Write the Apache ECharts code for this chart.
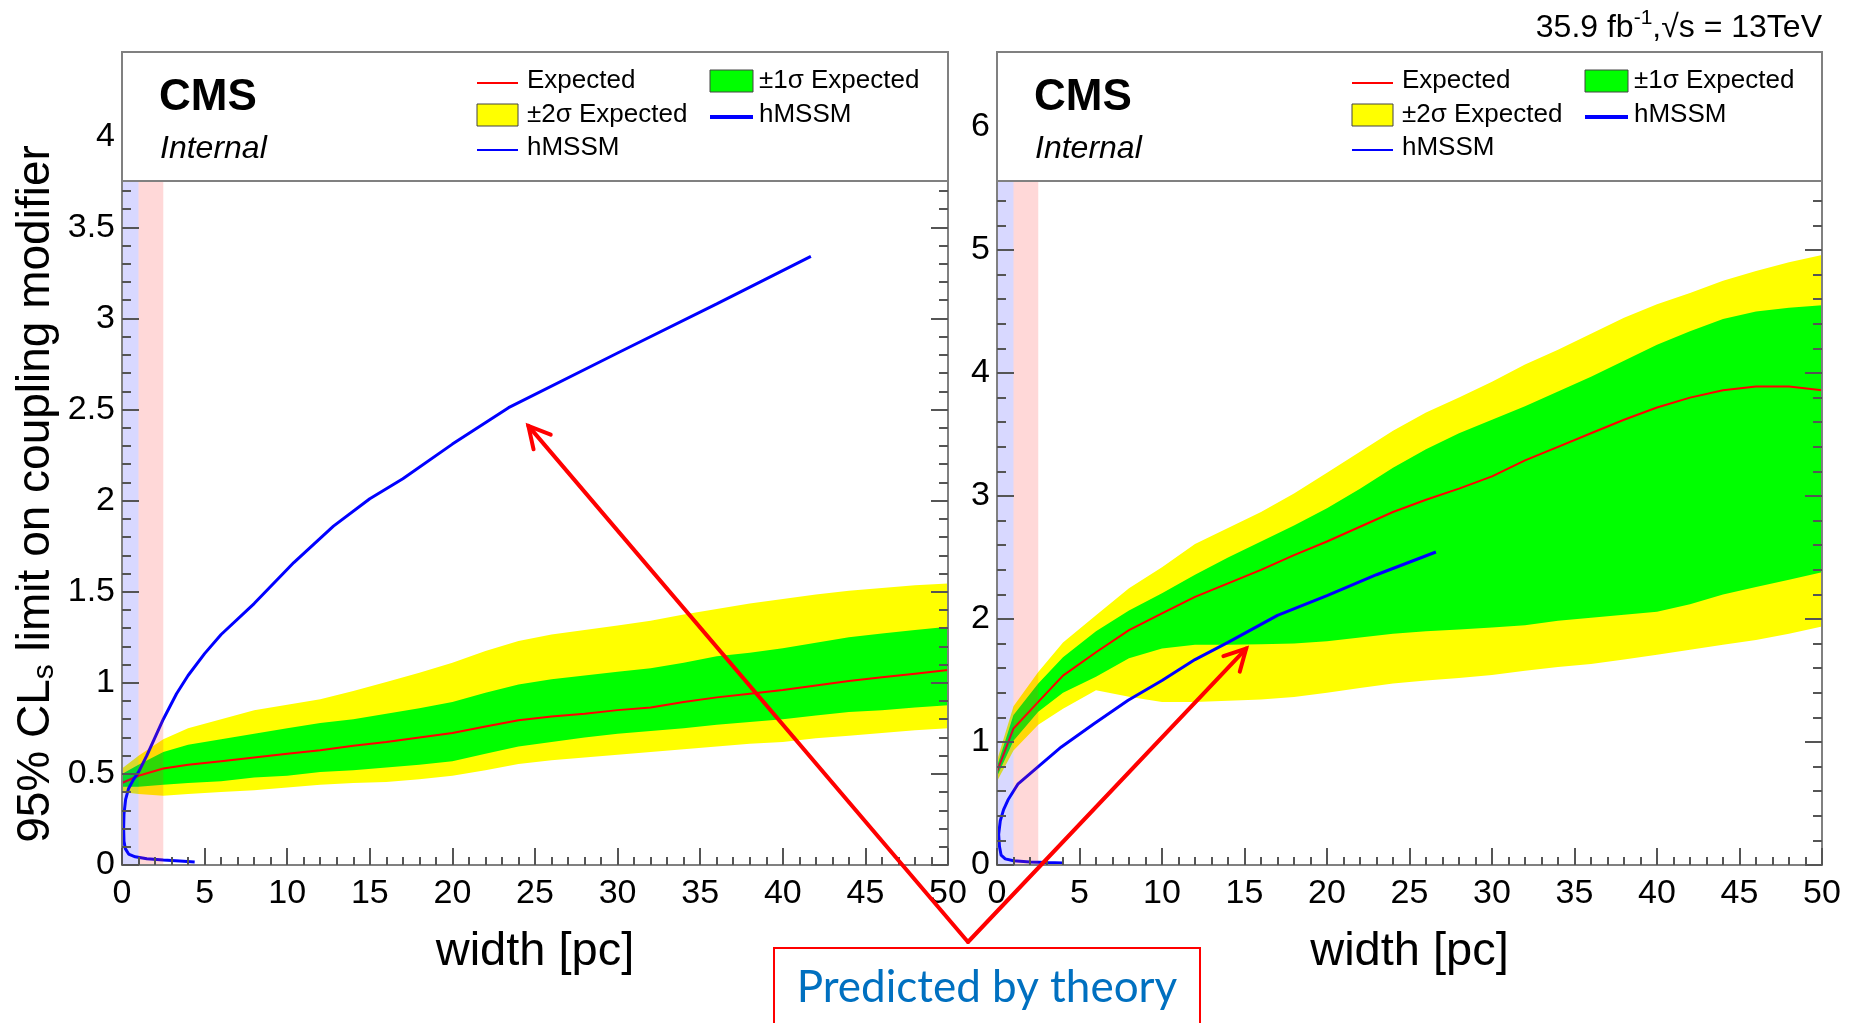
<!DOCTYPE html>
<html>
<head>
<meta charset="utf-8">
<script src="https://cdn.jsdelivr.net/npm/echarts@6/dist/echarts.min.js"></script>
<style>
  html, body { margin: 0; padding: 0; background: #ffffff; }
  #chart { width: 1855px; height: 1023px; }
</style>
</head>
<body>
<div id="chart"></div>
<script>
// ---------------- left panel: expected limit and bands vs width ----------------
const leftWidth  = [0, 1, 2.5, 4, 6, 8, 10, 12, 14, 16, 18, 20, 22, 24, 26, 28, 30, 32, 34, 36, 38, 40, 42, 44, 46, 48, 50];
const leftMinus2 = [0.40, 0.39, 0.38, 0.39, 0.40, 0.41, 0.425, 0.44, 0.45, 0.455, 0.47, 0.49, 0.52, 0.555, 0.575, 0.59, 0.605, 0.62, 0.635, 0.65, 0.665, 0.675, 0.695, 0.71, 0.725, 0.74, 0.75];
const leftMinus1 = [0.43, 0.43, 0.44, 0.45, 0.46, 0.48, 0.49, 0.51, 0.52, 0.535, 0.55, 0.57, 0.61, 0.65, 0.675, 0.70, 0.72, 0.735, 0.75, 0.77, 0.785, 0.80, 0.82, 0.84, 0.85, 0.865, 0.877];
const leftExpected = [0.45, 0.49, 0.53, 0.55, 0.57, 0.59, 0.61, 0.63, 0.655, 0.675, 0.70, 0.725, 0.76, 0.795, 0.815, 0.83, 0.85, 0.865, 0.895, 0.92, 0.94, 0.96, 0.985, 1.01, 1.03, 1.05, 1.07];
const leftPlus1  = [0.50, 0.55, 0.62, 0.66, 0.69, 0.72, 0.75, 0.78, 0.80, 0.83, 0.86, 0.895, 0.945, 0.99, 1.02, 1.04, 1.06, 1.08, 1.11, 1.145, 1.165, 1.19, 1.22, 1.25, 1.27, 1.29, 1.307];
const leftPlus2  = [0.53, 0.60, 0.69, 0.75, 0.80, 0.85, 0.88, 0.91, 0.955, 1.005, 1.055, 1.11, 1.175, 1.23, 1.265, 1.29, 1.315, 1.34, 1.375, 1.405, 1.435, 1.46, 1.485, 1.505, 1.52, 1.535, 1.545];
// hMSSM prediction, listed along the curve (width, coupling modifier)
const leftHmssm = [[4.4, 0.017], [3.5, 0.022], [2.5, 0.027], [1.5, 0.034], [0.8, 0.045], [0.4, 0.06], [0.2, 0.09], [0.12, 0.13], [0.1, 0.2], [0.12, 0.28], [0.22, 0.36], [0.4, 0.42], [0.7, 0.47], [1.0, 0.51], [1.5, 0.6], [2.0, 0.7], [2.5, 0.8], [3.3, 0.94], [4.0, 1.04], [5.0, 1.16], [6.0, 1.265], [8.0, 1.435], [10.4, 1.66], [12.8, 1.86], [15.0, 2.01], [17.0, 2.12], [20.0, 2.31], [23.4, 2.51], [30.0, 2.81], [36.0, 3.08], [41.7, 3.34]];

// ---------------- right panel ----------------
const rightWidth  = [0, 1, 2.5, 4, 6, 8, 10, 12, 14, 16, 18, 20, 22, 24, 26, 28, 30, 32, 34, 36, 38, 40, 42, 44, 46, 48, 50];
const rightMinus2 = [0.68, 0.93, 1.14, 1.27, 1.42, 1.367, 1.326, 1.326, 1.335, 1.345, 1.365, 1.40, 1.44, 1.475, 1.50, 1.52, 1.545, 1.58, 1.61, 1.635, 1.67, 1.71, 1.75, 1.79, 1.83, 1.88, 1.94];
const rightMinus1 = [0.72, 1.01, 1.245, 1.40, 1.53, 1.68, 1.76, 1.79, 1.79, 1.795, 1.80, 1.82, 1.85, 1.88, 1.90, 1.915, 1.93, 1.95, 1.985, 2.01, 2.035, 2.06, 2.12, 2.20, 2.26, 2.32, 2.38];
const rightExpected = [0.76, 1.11, 1.326, 1.54, 1.73, 1.91, 2.045, 2.18, 2.29, 2.40, 2.52, 2.63, 2.75, 2.87, 2.97, 3.06, 3.16, 3.29, 3.40, 3.51, 3.62, 3.72, 3.80, 3.86, 3.89, 3.89, 3.86];
const rightPlus1  = [0.80, 1.22, 1.475, 1.69, 1.90, 2.07, 2.21, 2.36, 2.50, 2.63, 2.76, 2.90, 3.06, 3.23, 3.38, 3.51, 3.62, 3.73, 3.85, 3.97, 4.10, 4.23, 4.34, 4.44, 4.50, 4.53, 4.55];
const rightPlus2  = [0.85, 1.29, 1.57, 1.81, 2.03, 2.25, 2.42, 2.61, 2.74, 2.87, 3.02, 3.19, 3.36, 3.53, 3.68, 3.80, 3.93, 4.07, 4.19, 4.32, 4.45, 4.56, 4.65, 4.75, 4.83, 4.90, 4.96];
const rightHmssm = [[4.0, 0.017], [3.0, 0.02], [2.0, 0.025], [1.0, 0.035], [0.5, 0.05], [0.25, 0.08], [0.15, 0.15], [0.1, 0.25], [0.2, 0.36], [0.4, 0.45], [0.67, 0.53], [1.28, 0.66], [2.5, 0.80], [3.9, 0.96], [5.9, 1.15], [7.95, 1.34], [10.0, 1.50], [12.0, 1.67], [14.0, 1.81], [17.0, 2.03], [20.0, 2.19], [23.0, 2.36], [26.6, 2.545]];

// shaded width ranges [from, to]
const shadeRanges = [[0, 1], [1, 2.5]];

// axis ranges / ticks
const xRange = [0, 50];
const xStep = 5;
const leftYMax = 4.462, leftYStep = 0.5;
const rightYMax = 6.61, rightYStep = 1;

// annotation arrow tips (width, coupling modifier) in each panel
const arrowTips = [[24.6, 2.41], [15.1, 1.76]];
const noteText = 'Predicted by theory';

// ---------------- layout ----------------
const FONT = "'Liberation Sans', Arial, Helvetica, sans-serif";
const grids = [
  { left: 122, top: 52, width: 826, height: 813 },
  { left: 997, top: 52, width: 825, height: 813 }
];
const legendH = 129;
const frameColor = '#808080';
const tickColor = '#555555';
const shadeColors = ['rgba(40,40,255,0.18)', 'rgba(255,40,40,0.18)'];

function xAxisFor(gi) {
  return {
    type: 'value', gridIndex: gi, min: xRange[0], max: xRange[1], interval: xStep,
    position: 'bottom', z: 5,
    name: 'width [pc]', nameLocation: 'middle', nameGap: 64,
    nameTextStyle: { fontFamily: FONT, fontSize: 47, color: '#000' },
    axisLine: { show: true, lineStyle: { color: frameColor, width: 2 } },
    axisTick: { show: true, inside: true, length: 17, lineStyle: { color: tickColor, width: 2 } },
    minorTick: { show: true, splitNumber: 5, length: 8, lineStyle: { color: tickColor, width: 2 } },
    axisLabel: { fontFamily: FONT, fontSize: 34, color: '#000', margin: 12, hideOverlap: false },
    splitLine: { show: false }, minorSplitLine: { show: false }
  };
}
function yAxisFor(gi, max, step, side, withLabels) {
  return {
    type: 'value', gridIndex: gi, min: 0, max: max, interval: step,
    position: side, z: 5,
    axisLine: { show: true, onZero: false, lineStyle: { color: frameColor, width: 2 } },
    axisTick: { show: true, inside: true, length: 17, lineStyle: { color: tickColor, width: 2 } },
    minorTick: { show: true, splitNumber: 5, length: 9, lineStyle: { color: tickColor, width: 2 } },
    axisLabel: { show: withLabels, fontFamily: FONT, fontSize: 34, color: '#000', margin: 7, showMaxLabel: false, hideOverlap: false },
    splitLine: { show: false }, minorSplitLine: { show: false }
  };
}

const yAxes = [
  yAxisFor(0, leftYMax, leftYStep, 'left', true),
  yAxisFor(0, leftYMax, leftYStep, 'right', false),
  yAxisFor(1, rightYMax, rightYStep, 'left', true),
  yAxisFor(1, rightYMax, rightYStep, 'right', false)
];
Object.assign(yAxes[0], {
  name: '95% CL{sub|s} limit on coupling modifier',
  nameLocation: 'middle', nameGap: 62,
  nameTextStyle: {
    fontFamily: FONT, fontSize: 46, color: '#000', padding: [0, 71, 0, 0],
    rich: { sub: { fontFamily: FONT, fontSize: 30, color: '#000', verticalAlign: 'bottom', padding: [18, 0, 0, 0] } }
  }
});

// filled band between a lower and an upper edge, drawn as one polygon
function band(gi, xs, lo, hi, color) {
  return {
    type: 'custom', xAxisIndex: gi, yAxisIndex: gi * 2, z: 2, silent: true,
    data: xs.map((x, i) => [x, lo[i], hi[i]]),
    encode: { x: 0, y: [1, 2] },
    renderItem: function (params, api) {
      if (params.dataIndex !== 0) return null;
      const upper = xs.map((x, i) => api.coord([x, hi[i]]));
      const lower = xs.map((x, i) => api.coord([x, lo[i]])).reverse();
      return { type: 'polygon', shape: { points: upper.concat(lower) }, style: { fill: color } };
    }
  };
}
// translucent width ranges laid over bands and curves, full frame height
function shading(gi) {
  return {
    type: 'custom', xAxisIndex: gi, yAxisIndex: gi * 2, z: 5, silent: true,
    data: shadeRanges.map(r => [r[0], r[1]]),
    encode: { x: [0, 1] },
    renderItem: function (params, api) {
      const cs = params.coordSys;
      const x0 = api.coord([api.value(0), 0])[0];
      const x1 = api.coord([api.value(1), 0])[0];
      return { type: 'rect', shape: { x: x0, y: cs.y, width: x1 - x0, height: cs.height },
               style: { fill: shadeColors[params.dataIndex] } };
    }
  };
}
function curve(gi, data, color, width) {
  return {
    type: 'line', xAxisIndex: gi, yAxisIndex: gi * 2, data: data, z: 4,
    symbol: 'none', silent: true, lineStyle: { color: color, width: width }
  };
}

const series = [
  band(0, leftWidth, leftMinus2, leftPlus2, '#ffff00'),
  band(0, leftWidth, leftMinus1, leftPlus1, '#00ff00'),
  curve(0, leftWidth.map((x, i) => [x, leftExpected[i]]), '#ff0000', 2),
  curve(0, leftHmssm, '#0000ff', 3),
  shading(0),
  band(1, rightWidth, rightMinus2, rightPlus2, '#ffff00'),
  band(1, rightWidth, rightMinus1, rightPlus1, '#00ff00'),
  curve(1, rightWidth.map((x, i) => [x, rightExpected[i]]), '#ff0000', 2),
  curve(1, rightHmssm, '#0000ff', 3),
  shading(1)
];

// legend box drawn over the top of each frame
function legendBox(gi) {
  const g = grids[gi];
  const r1 = 29, r2 = 63, r3 = 96;
  const c1 = 355, c2 = 588, symW = 41;
  const Z = 50;
  const txt = (x, y, s) => ({
    type: 'text', x: x, y: y, z: Z + 1,
    style: { text: s, fontFamily: FONT, fontSize: 26, fill: '#000', textVerticalAlign: 'middle' }
  });
  return {
    type: 'group', id: 'legend' + gi, x: g.left, y: g.top,
    children: [
      { type: 'rect', z: Z, shape: { x: 0, y: 0, width: g.width, height: legendH },
        style: { fill: '#ffffff', stroke: frameColor, lineWidth: 2 } },
      { type: 'text', z: Z + 1, x: 37, y: 46,
        style: { text: 'CMS', fontFamily: FONT, fontWeight: 'bold', fontSize: 44, fill: '#000', textVerticalAlign: 'middle' } },
      { type: 'text', z: Z + 1, x: 38, y: 97,
        style: { text: 'Internal', fontFamily: FONT, fontStyle: 'italic', fontSize: 32, fill: '#000', textVerticalAlign: 'middle' } },
      { type: 'line', z: Z + 1, shape: { x1: c1, y1: r1 + 2, x2: c1 + symW, y2: r1 + 2 }, style: { stroke: '#ff0000', lineWidth: 2 } },
      txt(c1 + 50, r1, 'Expected'),
      { type: 'rect', z: Z + 1, shape: { x: c1, y: r2 - 11, width: symW, height: 22 }, style: { fill: '#ffff00', stroke: '#444', lineWidth: 1 } },
      txt(c1 + 50, r2, '±2σ Expected'),
      { type: 'line', z: Z + 1, shape: { x1: c1, y1: r3 + 2, x2: c1 + symW, y2: r3 + 2 }, style: { stroke: '#0000ff', lineWidth: 2 } },
      txt(c1 + 50, r3, 'hMSSM'),
      { type: 'rect', z: Z + 1, shape: { x: c2, y: r1 - 11, width: symW + 2, height: 22 }, style: { fill: '#00ff00', stroke: '#444', lineWidth: 1 } },
      txt(c2 + 49, r1, '±1σ Expected'),
      { type: 'line', z: Z + 1, shape: { x1: c2, y1: r2 + 2, x2: c2 + symW + 2, y2: r2 + 2 }, style: { stroke: '#0000ff', lineWidth: 4 } },
      txt(c2 + 49, r2, 'hMSSM')
    ]
  };
}

const graphics = [
  legendBox(0),
  legendBox(1),
  {
    type: 'text', id: 'lumi', x: 1822, y: 26, z: 50,
    style: {
      text: '{a|35.9 fb}{sup|-1}{a|,√s = 13TeV}',
      textAlign: 'right', textVerticalAlign: 'middle',
      rich: {
        a: { fontFamily: FONT, fontSize: 32, fill: '#000', lineHeight: 36, verticalAlign: 'bottom' },
        sup: { fontFamily: FONT, fontSize: 21, fill: '#000', lineHeight: 36, verticalAlign: 'top' }
      }
    }
  },
  {
    type: 'rect', id: 'noteBox', z: 60,
    shape: { x: 774, y: 948, width: 426, height: 100 },
    style: { fill: '#ffffff', stroke: '#ff0000', lineWidth: 2 }
  },
  {
    type: 'text', id: 'noteText', z: 61, x: 987, y: 988,
    style: { text: noteText, fontFamily: 'Lato, "Open Sans", sans-serif', fontSize: 44, fill: '#0070c0',
             textAlign: 'center', textVerticalAlign: 'middle' }
  }
];

const chart = echarts.init(document.getElementById('chart'), null, { renderer: 'canvas' });
chart.setOption({
  animation: false,
  backgroundColor: '#ffffff',
  grid: grids.map(g => Object.assign({ containLabel: false, show: false }, g)),
  xAxis: [xAxisFor(0), xAxisFor(1)],
  yAxis: yAxes,
  series: series,
  graphic: graphics
});

// annotation arrows from the note box up to the theory curves
const start = [968, 942];
const arrowEls = [];
arrowTips.forEach((tip, i) => {
  const p = chart.convertToPixel({ gridIndex: i }, tip);
  const dx = start[0] - p[0], dy = start[1] - p[1];
  const len = Math.hypot(dx, dy);
  const ux = dx / len, uy = dy / len;
  const L = 24, a = 28 * Math.PI / 180;
  const rot = (ang) => [p[0] + L * (ux * Math.cos(ang) - uy * Math.sin(ang)),
                        p[1] + L * (ux * Math.sin(ang) + uy * Math.cos(ang))];
  arrowEls.push(
    { type: 'line', id: 'arrowLine' + i, z: 70, shape: { x1: start[0], y1: start[1], x2: p[0], y2: p[1] },
      style: { stroke: '#ff0000', lineWidth: 4, lineCap: 'round' } },
    { type: 'polyline', id: 'arrowHead' + i, z: 70, shape: { points: [rot(a), p, rot(-a)] },
      style: { stroke: '#ff0000', lineWidth: 4, fill: null, lineJoin: 'miter', lineCap: 'round' } }
  );
});
chart.setOption({ graphic: graphics.concat(arrowEls) });
</script>
</body>
</html>
